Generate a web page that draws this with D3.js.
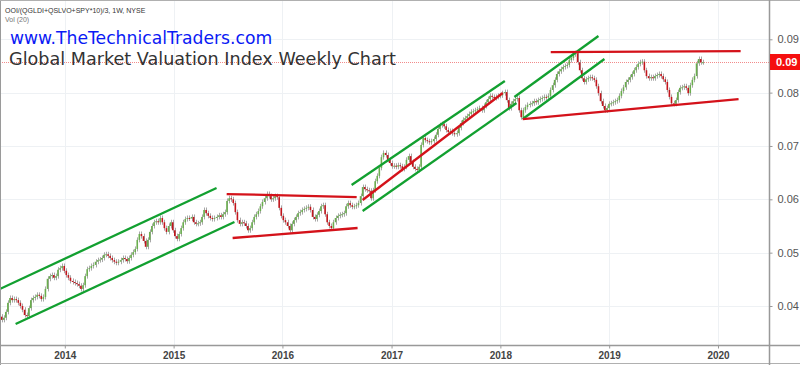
<!DOCTYPE html>
<html><head><meta charset="utf-8">
<script src="https://cdnjs.cloudflare.com/ajax/libs/d3/7.8.5/d3.min.js"></script>
<style>body{margin:0;background:#fff}svg{display:block}</style>
</head><body><svg id="c" width="800" height="365"></svg>
<script>
// ---- DATA ----
const firstWeek = "2013-06-03";
const firstOpen = 0.0380;
const closes = [
.0374,.0378,.0389,.0406,.0415,.0411,.0413,.0411,.0406,.0400,.0393,.0383,.0381,.0396,.0411,.0415,.0417,.0421,.0419,.0413,
.0417,.0432,.0451,.0456,.0458,.0453,.0456,.0468,.0471,.0475,.0466,.0458,.0453,.0447,.0445,.0443,.0441,.0438,.0432,.0439,
.0456,.0469,.0471,.0475,.0477,.0483,.0486,.0487,.0490,.0496,.0497,.0494,.0490,.0486,.0483,.0481,.0483,.0486,.0490,.0488,
.0484,.0490,.0496,.0501,.0507,.0524,.0535,.0531,.0522,.0511,.0524,.0539,.0550,.0557,.0559,.0557,.0565,.0557,.0546,.0539,
.0550,.0557,.0542,.0531,.0526,.0535,.0546,.0557,.0563,.0565,.0564,.0567,.0557,.0554,.0555,.0557,.0567,.0580,.0574,.0569,
.0565,.0563,.0565,.0567,.0570,.0567,.0572,.0576,.0597,.0602,.0600,.0593,.0576,.0561,.0554,.0557,.0555,.0550,.0542,.0546,
.0557,.0567,.0572,.0578,.0587,.0595,.0602,.0610,.0606,.0600,.0602,.0606,.0604,.0584,.0569,.0561,.0557,.0550,.0542,.0554,
.0561,.0567,.0574,.0576,.0580,.0582,.0584,.0586,.0580,.0567,.0563,.0571,.0578,.0587,.0589,.0572,.0557,.0550,.0546,.0557,
.0565,.0569,.0571,.0572,.0574,.0587,.0593,.0589,.0586,.0587,.0589,.0593,.0606,.0623,.0619,.0617,.0616,.0602,.0617,.0634,
.0644,.0659,.0679,.0687,.0683,.0674,.0668,.0662,.0663,.0661,.0664,.0662,.0657,.0661,.0674,.0681,.0670,.0661,.0657,.0655,
.0661,.0702,.0715,.0711,.0709,.0707,.0709,.0713,.0721,.0732,.0739,.0741,.0737,.0730,.0726,.0728,.0724,.0722,.0724,.0734,
.0743,.0749,.0752,.0756,.0760,.0764,.0765,.0767,.0769,.0771,.0767,.0775,.0782,.0788,.0794,.0792,.0790,.0792,.0794,.0795,
.0799,.0801,.0786,.0771,.0779,.0784,.0788,.0790,.0767,.0754,.0767,.0773,.0777,.0779,.0780,.0784,.0782,.0786,.0788,.0790,
.0792,.0791,.0794,.0805,.0814,.0824,.0835,.0840,.0844,.0848,.0850,.0852,.0861,.0865,.0872,.0874,.0857,.0842,.0827,.0820,
.0825,.0827,.0829,.0827,.0824,.0812,.0799,.0784,.0775,.0767,.0771,.0779,.0780,.0782,.0784,.0786,.0794,.0803,.0810,.0820,
.0824,.0829,.0835,.0842,.0848,.0854,.0857,.0858,.0842,.0831,.0827,.0829,.0827,.0831,.0833,.0835,.0831,.0825,.0820,.0805,
.0792,.0780,.0779,.0786,.0801,.0809,.0810,.0812,.0809,.0799,.0814,.0824,.0831,.0855,.0863,.0857,.0857
];
const yTicks = [0.04, 0.05, 0.06, 0.07, 0.08, 0.09];
const xTickYears = [2014, 2015, 2016, 2017, 2018, 2019, 2020];
const lastPrice = 0.0857;
const greenLines = [
  [["2013-05-28", .04319], ["2015-05-25", .06212]],
  [["2013-07-20", .03663], ["2015-07-24", .05575]],
  [["2016-08-20", .06268], ["2018-01-16", .08217]],
  [["2016-09-26", .05781], ["2018-02-24", .07805]],
  [["2018-02-17", .07918], ["2018-11-26", .09061]],
  [["2018-03-17", .07505], ["2018-12-16", .08630]]
];
const redLines = [
  [["2015-06-28", .06099], ["2016-09-06", .06043]],
  [["2015-07-18", .05275], ["2016-09-09", .05462]],
  [["2016-09-26", .05987], ["2018-01-09", .07993]],
  [["2018-06-19", .08761], ["2020-03-17", .08780]],
  [["2018-03-17", .07505], ["2020-03-10", .07880]]
];
const symbolText = "OOI/(QGLDI+QSLVO+SPY*10)/3, 1W, NYSE";
const volText = "Vol (20)";
const siteText = "www.TheTechnicalTraders.com";
const titleText = "Global Market Valuation Index Weekly Chart";

// ---- DRAW ----
const svg = d3.select("#c");
const W = 800, H = 365, plotR = 769, plotB = 345;
const parse = d3.timeParse("%Y-%m-%d");
const x = d3.scaleTime().domain([new Date(2014,0,1), new Date(2020,0,1)]).range([64.8, 718]);
const y = d3.scaleLinear().domain([0.04, 0.09]).range([306, 39.3]);

svg.append("rect").attr("width", W).attr("height", H).attr("fill", "#fff");

svg.append("clipPath").attr("id","pc").append("rect").attr("x",0).attr("y",0).attr("width",plotR).attr("height",plotB);

// grid
const grid = svg.append("g");
grid.selectAll(".hg").data(yTicks).join("line")
  .attr("x1",0).attr("x2",plotR).attr("y1",d=>Math.round(y(d))+0.5).attr("y2",d=>Math.round(y(d))+0.5)
  .attr("stroke","#eef1f4").attr("stroke-width",1);
grid.selectAll(".vg").data(xTickYears).join("line")
  .attr("y1",0).attr("y2",plotB).attr("x1",d=>Math.round(x(new Date(d,0,1)))+0.5).attr("x2",d=>Math.round(x(new Date(d,0,1)))+0.5)
  .attr("stroke","#eef1f4").attr("stroke-width",1);

const plot = svg.append("g").attr("clip-path","url(#pc)");

// last price dotted line
plot.append("line").attr("x1",0).attr("x2",plotR)
  .attr("y1",Math.round(y(lastPrice))+0.5).attr("y2",Math.round(y(lastPrice))+0.5)
  .attr("stroke","#f28b8b").attr("stroke-width",1).attr("stroke-dasharray","1,1");

// candles
const start = parse(firstWeek);
const bars = closes.map((c,i)=>{
  const o = i ? closes[i-1] : firstOpen;
  return {d: d3.timeWeek.offset(start, i), o, c};
});
const cg = plot.append("g");
cg.selectAll(".wick").data(bars).join("line")
  .attr("x1",d=>Math.round(x(d.d))+0.5).attr("x2",d=>Math.round(x(d.d))+0.5)
  .attr("y1",d=>y(Math.max(d.o,d.c))-2.5).attr("y2",d=>y(Math.min(d.o,d.c))+2.5)
  .attr("stroke","#a8a8a8").attr("stroke-width",1);
cg.selectAll(".body").data(bars).join("rect")
  .attr("x",d=>x(d.d)-0.8).attr("width",1.6)
  .attr("y",d=>y(Math.max(d.o,d.c)))
  .attr("height",d=>Math.max(1, Math.abs(y(d.o)-y(d.c))))
  .attr("fill",d=>d.c>=d.o?"#6aae4e":"#c2161d");

// trend lines
const lg = plot.append("g");
function drawLines(arr, col){
  lg.selectAll(null).data(arr).join("line")
    .attr("x1",d=>x(parse(d[0][0]))).attr("y1",d=>y(d[0][1]))
    .attr("x2",d=>x(parse(d[1][0]))).attr("y2",d=>y(d[1][1]))
    .attr("stroke",col).attr("stroke-width",2.3).attr("stroke-linecap","butt");
}
drawLines(greenLines, "#12a030");
drawLines(redLines, "#d4121a");

// frame lines
svg.append("line").attr("x1",0.5).attr("x2",0.5).attr("y1",0).attr("y2",H).attr("stroke","#9a9a9a");
svg.append("line").attr("x1",0).attr("x2",W).attr("y1",0.5).attr("y2",0.5).attr("stroke","#b0b0b0");
svg.append("line").attr("x1",0).attr("x2",W).attr("y1",363.5).attr("y2",363.5).attr("stroke","#b0b0b0");

// y axis
const ya = svg.append("g").attr("transform",`translate(${plotR+0.5},0)`)
  .call(d3.axisRight(y).tickValues(yTicks).tickFormat(d3.format(".2f")).tickSize(3).tickPadding(5));
ya.select(".domain").attr("stroke","#999").attr("stroke-width",1.5).attr("d",`M0,0V${H}`);
ya.selectAll(".tick line").attr("stroke","#999");
ya.selectAll(".tick text").attr("fill","#555").style("font","11px 'Liberation Sans', Arial, sans-serif");

// x axis
const xa = svg.append("g").attr("transform",`translate(0,${plotB+0.5})`)
  .call(d3.axisBottom(x).tickValues(xTickYears.map(v=>new Date(v,0,1))).tickFormat(d3.timeFormat("%Y")).tickSize(3).tickPadding(3));
xa.select(".domain").attr("stroke","#999").attr("stroke-width",1.5).attr("d",`M0,0H${W}`);
xa.selectAll(".tick line").attr("stroke","#999");
xa.selectAll(".tick text").attr("fill","#444").style("font","bold 10px 'Liberation Sans', Arial, sans-serif");

// last price label
const ly = Math.round(y(lastPrice));
svg.append("rect").attr("x",plotR+1).attr("y",ly-8).attr("width",W-plotR-1).attr("height",16).attr("fill","#f50f0f");
svg.append("text").attr("x",776).attr("y",ly+4).attr("fill","#fff")
  .style("font","bold 11px 'Liberation Sans', Arial, sans-serif").text(d3.format(".2f")(lastPrice));

// texts
svg.append("text").attr("x",5).attr("y",12.5).attr("fill","#333")
  .style("font","7px 'Liberation Sans', Arial, sans-serif").text(symbolText);
svg.append("text").attr("x",5).attr("y",22).attr("fill","#777")
  .style("font","7px 'Liberation Sans', Arial, sans-serif").text(volText);
svg.append("text").attr("x",10).attr("y",44).attr("fill","#0a1af5")
  .style("font","17.2px 'DejaVu Sans', Verdana, sans-serif").text(siteText);
svg.append("text").attr("x",9).attr("y",65).attr("fill","#333")
  .style("font","17.6px 'DejaVu Sans', Verdana, sans-serif").text(titleText);
</script></body></html>
